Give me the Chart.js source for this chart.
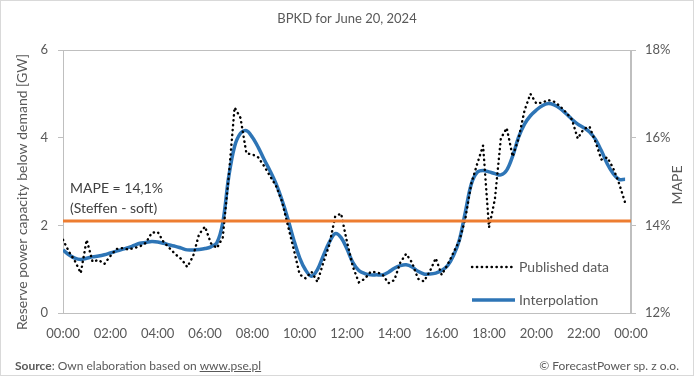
<!DOCTYPE html>
<html>
<head>
<meta charset="utf-8">
<script src="https://cdn.jsdelivr.net/npm/chart.js@4"></script>
<style>
html, body { margin: 0; padding: 0; background: #fff; }
#wrap { position: relative; width: 694px; height: 376px; font-family: Lato, sans-serif; }
#frame { position: absolute; left: 0; top: 0; right: 0; bottom: 0; border: 1px solid #d9d9d9; pointer-events: none; }
canvas { position: absolute; left: 0; top: 0; }
.foot { position: absolute; top: 358px; font-size: 12px; color: #595959; white-space: nowrap; }
</style>
</head>
<body>
<div id="wrap">
  <canvas id="c" width="694" height="376"></canvas>
  <div class="foot" style="left:15px"><b>Source</b>: Own elaboration based on <u>www.pse.pl</u></div>
  <div class="foot" style="right:15px">© ForecastPower sp. z o.o.</div>
  <div id="frame"></div>
</div>
<script>
// 15-minute values, 00:00 .. 23:45 [GW]
const published = [
  1.67, 1.40, 1.19, 0.91, 1.67, 1.17, 1.21, 1.12,
  1.30, 1.46, 1.48, 1.45, 1.48, 1.52, 1.60, 1.83,
  1.85, 1.62, 1.48, 1.34, 1.23, 1.05, 1.30, 1.80,
  1.97, 1.59, 1.48, 1.72, 3.10, 4.69, 4.45, 3.64,
  3.62, 3.55, 3.35, 3.12, 2.90, 2.55, 2.00, 1.45,
  0.88, 0.79, 0.94, 0.71, 1.15, 1.55, 2.20, 2.27,
  1.62, 1.05, 0.70, 0.78, 0.94, 0.93, 0.88, 0.68,
  0.75, 1.15, 1.35, 1.15, 0.78, 0.72, 0.95, 1.25,
  0.87, 1.10, 1.38, 1.65, 2.15, 2.95, 3.40, 3.82,
  1.95, 2.60, 3.98, 4.22, 3.57, 3.98, 4.62, 5.00,
  4.78, 4.80, 4.86, 4.82, 4.72, 4.58, 4.42, 3.98,
  4.20, 4.25, 3.90, 3.50, 3.55, 3.30, 2.95, 2.52
]
const interpolation = [
  1.44, 1.33, 1.25, 1.22, 1.25, 1.28, 1.30, 1.33,
  1.37, 1.41, 1.45, 1.49, 1.54, 1.59, 1.61, 1.63,
  1.62, 1.59, 1.55, 1.52, 1.48, 1.44, 1.44, 1.45,
  1.47, 1.51, 1.60, 2.06, 3.10, 3.80, 4.10, 4.16,
  4.01, 3.78, 3.50, 3.24, 2.95, 2.58, 2.15, 1.67,
  1.26, 0.98, 0.84, 0.99, 1.31, 1.61, 1.81, 1.72,
  1.46, 1.15, 0.97, 0.90, 0.87, 0.87, 0.87, 0.93,
  1.02, 1.08, 1.10, 1.05, 0.95, 0.89, 0.89, 0.91,
  0.97, 1.08, 1.31, 1.67, 2.30, 2.94, 3.21, 3.25,
  3.22, 3.18, 3.15, 3.26, 3.58, 4.01, 4.31, 4.50,
  4.63, 4.73, 4.78, 4.75, 4.67, 4.55, 4.42, 4.31,
  4.23, 4.13, 3.96, 3.70, 3.40, 3.18, 3.05, 3.05
]
const mapeValue = 14.1 // %
const mapeRange = [0, 24] // hours
const stepHours = 0.25

const gray = '#595959'
const axisGray = '#bfbfbf'
const dots = [0.3, 4.6]

const toPoints = arr => arr.map((v, i) => ({ x: i * stepHours, y: v }))

const textPlugin = {
    id: 'texts',
    beforeDatasetsDraw(chart) {
        const { ctx, chartArea: a } = chart
        ctx.save()
        ctx.strokeStyle = axisGray
        ctx.lineWidth = 1
        ctx.strokeRect(a.left + 0.5, a.top + 0.5, a.right - a.left - 1, a.bottom - a.top)
        ctx.restore()
    },
    afterDraw(chart) {
        const { ctx, chartArea: a } = chart
        ctx.save()
        ctx.fillStyle = gray
        ctx.textBaseline = 'middle'
        ctx.textAlign = 'center'
        ctx.font = '14px Lato'
        // axis titles
        ctx.save()
        ctx.translate(22, 192)
        ctx.rotate(-Math.PI / 2)
        ctx.fillText('Reserve power capacity below demand [GW]', 0, 0)
        ctx.restore()
        ctx.save()
        ctx.translate(677, 185)
        ctx.rotate(-Math.PI / 2)
        ctx.fillText('MAPE', 0, 0)
        ctx.restore()
        // MAPE note
        ctx.textAlign = 'left'
        ctx.fillStyle = '#404040'
        ctx.fillText('MAPE = 14,1%', a.left + 7, 188)
        ctx.fillText('(Steffen - soft)', a.left + 7, 208)
        // legend
        ctx.fillStyle = gray
        ctx.fillText('Published data', 519, 267)
        ctx.fillText('Interpolation', 519, 300)
        ctx.lineCap = 'round'
        ctx.strokeStyle = '#000'
        ctx.lineWidth = 2.4
        ctx.setLineDash(dots)
        ctx.beginPath()
        ctx.moveTo(472, 267)
        ctx.lineTo(512, 267)
        ctx.stroke()
        ctx.setLineDash([])
        ctx.lineCap = 'butt'
        ctx.strokeStyle = '#2e75b6'
        ctx.lineWidth = 3.5
        ctx.beginPath()
        ctx.moveTo(472, 300)
        ctx.lineTo(515, 300)
        ctx.stroke()
        ctx.restore()
    }
}

const tickFont = { family: 'Lato', size: 13 }

new Chart(document.getElementById('c'), {
    type: 'line',
    data: {
        datasets: [
            {
                label: 'MAPE',
                data: mapeRange.map(x => ({ x, y: mapeValue })),
                yAxisID: 'y2',
                borderColor: '#ed7d31',
                borderWidth: 3,
                pointRadius: 0
            },
            {
                label: 'Published data',
                data: toPoints(published),
                yAxisID: 'y',
                borderColor: '#000',
                borderWidth: 2.4,
                borderDash: dots,
                borderCapStyle: 'round',
                pointRadius: 0,
                tension: 0
            },
            {
                label: 'Interpolation',
                data: toPoints(interpolation),
                yAxisID: 'y',
                borderColor: '#2e75b6',
                borderWidth: 3.5,
                pointRadius: 0,
                tension: 0.35
            }
        ]
    },
    options: {
        responsive: false,
        animation: false,
        layout: { padding: 0 },
        plugins: {
            legend: { display: false },
            tooltip: { enabled: false },
            title: {
                display: true,
                text: 'BPKD for June 20, 2024',
                color: gray,
                font: { family: 'Lato', size: 13, weight: 'normal' },
                padding: { top: 11, bottom: 23.4 }
            }
        },
        scales: {
            x: {
                type: 'linear',
                min: 0,
                max: 24,
                ticks: {
                    stepSize: 2,
                    color: gray,
                    font: tickFont,
                    padding: 5,
                    maxRotation: 0,
                    callback: v => String(v % 24).padStart(2, '0') + ':00'
                },
                grid: { display: false },
                border: { color: axisGray },
                afterFit(s) { s.height = 63 }
            },
            y: {
                position: 'left',
                min: 0,
                max: 6,
                ticks: { stepSize: 2, color: gray, font: tickFont, padding: 10 },
                grid: { drawOnChartArea: false, drawTicks: true, tickLength: 5, color: axisGray },
                border: { color: axisGray },
                afterFit(s) { s.width = 63 }
            },
            y2: {
                position: 'right',
                min: 12,
                max: 18,
                ticks: { stepSize: 2, color: gray, font: tickFont, padding: 9, callback: v => v + '%' },
                grid: { drawOnChartArea: false, drawTicks: true, tickLength: 5, color: axisGray },
                border: { color: axisGray },
                afterFit(s) { s.width = 63 }
            }
        }
    },
    plugins: [textPlugin]
})
</script>
</body>
</html>
